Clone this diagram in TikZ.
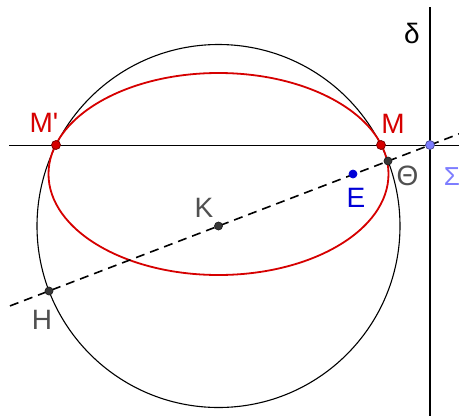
\documentclass[tikz,border=0pt]{standalone}
\usepackage{fontspec}
\newfontfamily\gfont{Liberation Sans}
\definecolor{gred}{RGB}{214,0,0}
\definecolor{gblue}{RGB}{0,0,215}
\definecolor{glav}{RGB}{125,125,255}
\definecolor{ggray}{RGB}{80,80,80}
\definecolor{gdark}{RGB}{55,55,55}
\begin{document}
\begin{tikzpicture}[x=1pt,y=-1pt,
  lbl/.style={font=\gfont\fontsize{28}{32}\selectfont, inner sep=0pt, anchor=base},
  pt/.style={circle, inner sep=0pt, minimum size=9pt, draw=#1!55!black, fill=#1, line width=0.7pt},
  gline/.style={line width=1.2pt, black},
  dline/.style={line width=1.6pt, black, dash pattern=on 9pt off 6pt},
]
\useasboundingbox[fill=white] (0,0) rectangle (459,416);
% circle and ellipse
\draw[line width=1.1pt, black] (218.5,226) circle [radius=181.5];
\draw[line width=1.8pt, gred] (218.5,174) ellipse [x radius=170, y radius=101];
% line ends
\coordinate (hl) at (9,145);
\coordinate (hr) at (459,145);
\coordinate (vt) at (430,7);
\coordinate (vb) at (430,416);
\coordinate (dl) at (10,305.9);
\coordinate (dr) at (459,133.9);
\draw[gline, line width=1pt] (hl) -- (hr);
\draw[gline, line width=1.4pt] (vt) -- (vb);
\draw[dline] (dl) -- (dr);
% points
\node[pt=gred] (Mp) at (56,145) {};
\node[pt=gred] (M) at (381,145) {};
\node[pt=glav] (S) at (430,145) {};
\node[pt=gdark, minimum size=8pt] (T) at (388,161) {};
\node[pt=gdark, minimum size=8pt] (K) at (218.5,226) {};
\node[pt=gdark, minimum size=8pt] (H) at (49,291) {};
\node[pt=gblue, minimum size=8pt, draw=gblue] (E) at (353,174) {};
% labels
\node[lbl, text=gred] (lMp) at (44,132) {M'};
\node[lbl, text=gred] (lM) at (393,133) {M};
\node[lbl, text=black] (ld) at (412,43) {δ};
\node[lbl, text=glav, font=\gfont\fontsize{26}{30}\selectfont] (lS) at (452,185) {Σ};
\node[lbl, text=ggray] (lT) at (407.5,185) {Θ};
\node[lbl, text=gblue] (lE) at (356,207) {E};
\node[lbl, text=ggray] (lK) at (204,217) {K};
\node[lbl, text=ggray] (lH) at (42,329) {H};
\end{tikzpicture}
\end{document}
